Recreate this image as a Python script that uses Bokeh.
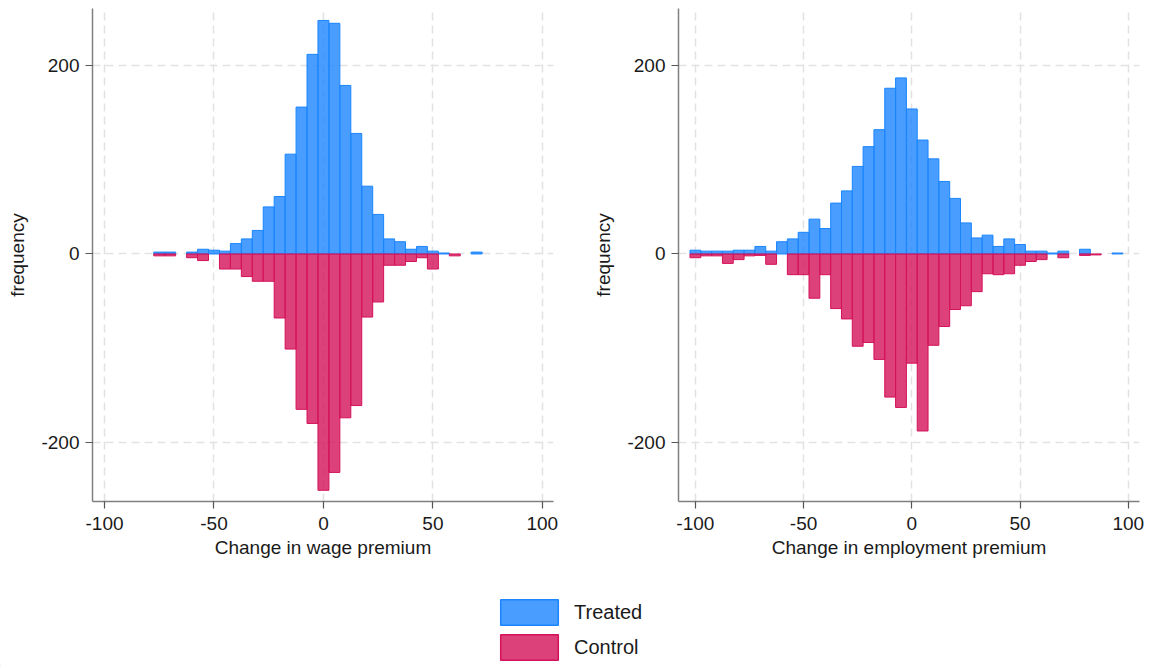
from bokeh.plotting import figure
from bokeh.layouts import column, row
from bokeh.models import Range1d, FixedTicker, Legend, LegendItem
from bokeh.embed import file_html
from bokeh.resources import INLINE

# ---------------- data ----------------
wage_bins = [-75, -70, -65, -60, -55, -50, -45, -40, -35, -30, -25, -20, -15, -10, -5,
             0, 5, 10, 15, 20, 25, 30, 35, 40, 45, 50, 55, 60, 65, 70]
wage_treated = [2, 2, 0, 2, 5, 4, 3, 11, 16, 25, 50, 61, 106, 156, 212,
                248, 245, 179, 128, 72, 42, 16, 13, 5, 8, 3, 1, 0, 0, 2]
wage_control = [2, 2, 0, 4, 7, 0, 16, 16, 24, 29, 29, 68, 101, 165, 180,
                251, 232, 174, 161, 67, 51, 12, 12, 8, 4, 16, 0, 2, 0, 0]

emp_bins = [-100, -95, -90, -85, -80, -75, -70, -65, -60, -55, -50, -45, -40, -35, -30,
            -25, -20, -15, -10, -5, 0, 5, 10, 15, 20, 25, 30, 35, 40, 45,
            50, 55, 60, 65, 70, 75, 80, 85, 90, 95]
emp_treated = [4, 3, 3, 3, 4, 4, 8, 3, 13, 16, 23, 37, 27, 54, 67,
               93, 114, 132, 176, 187, 154, 121, 101, 77, 59, 33, 17, 20, 8, 16,
               10, 3, 3, 1, 3, 0, 5, 0, 0, 1]
emp_control = [4, 2, 2, 10, 6, 2, 1.5, 11, 0, 22, 22, 47, 22, 58, 69,
               98, 94, 112, 152, 163, 116, 188, 97, 77, 59, 55, 40, 21, 22, 21,
               12, 8, 6, 0, 4, 0, 1.5, 1, 0, 0]

x_ticks = [-100, -50, 0, 50, 100]
y_ticks = [-200, 0, 200]
series_names = ["Treated", "Control"]
x_titles = ["Change in wage premium", "Change in employment premium"]
y_title = "frequency"

BLUE = "#1a85ff"
RED = "#d41159"
FONT = "Liberation Sans"
FS = "19px"
BIN_W = 5


def panel(bins, treated, control, xlabel, xr, width, border_right):
    p = figure(width=width, height=580,
               x_range=Range1d(*xr), y_range=Range1d(-262.9, 260.7),
               output_backend="svg", toolbar_location=None,
               min_border_left=92, min_border_right=border_right,
               min_border_top=8, min_border_bottom=79)
    p.outline_line_color = None
    p.background_fill_color = "white"
    p.border_fill_color = "white"

    t_x = [b for b, v in zip(bins, treated) if v > 0]
    t_v = [v for v in treated if v > 0]
    c_x = [b for b, v in zip(bins, control) if v > 0]
    c_v = [-v for v in control if v > 0]

    p.vbar(x=t_x, top=t_v, bottom=0, width=BIN_W,
           fill_color=BLUE, fill_alpha=0.8, line_color=BLUE, line_width=1)
    p.vbar(x=c_x, top=0, bottom=c_v, width=BIN_W,
           fill_color=RED, fill_alpha=0.8, line_color=RED, line_width=1)

    p.xaxis.ticker = FixedTicker(ticks=x_ticks)
    p.yaxis.ticker = FixedTicker(ticks=y_ticks)
    p.xaxis.major_label_overrides = {t: str(t) for t in x_ticks}
    p.yaxis.major_label_overrides = {t: str(t) for t in y_ticks}
    for ax in (p.xaxis[0], p.yaxis[0]):
        ax.axis_line_color = "#808080"
        ax.axis_line_width = 1.5
        ax.major_tick_line_color = "#555555"
        ax.major_tick_line_width = 1.2
        ax.major_tick_out = 7
        ax.major_tick_in = 0
        ax.minor_tick_out = 0
        ax.minor_tick_in = 0
        ax.major_label_text_font = FONT
        ax.major_label_text_font_size = FS
        ax.major_label_text_color = "#1a1a1a"
        ax.axis_label_text_font = FONT
        ax.axis_label_text_font_size = FS
        ax.axis_label_text_font_style = "normal"
        ax.axis_label_text_color = "#1a1a1a"
    p.xaxis.major_label_standoff = 8
    p.yaxis.major_label_standoff = 6
    p.xaxis.axis_label = xlabel
    p.xaxis.axis_label_standoff = 4
    p.yaxis.axis_label = y_title
    p.yaxis.axis_label_standoff = 10
    p.yaxis.major_label_orientation = "horizontal"

    for g in (p.xgrid[0], p.ygrid[0]):
        g.grid_line_color = "#e2e2e2"
        g.grid_line_width = 1.5
        g.grid_line_dash = "8 5"
    return p


p1 = panel(wage_bins, wage_treated, wage_control, x_titles[0], (-105.5, 105.1), 586, 33)
p2 = panel(emp_bins, emp_treated, emp_control, x_titles[1], (-107.8, 105.2), 567, 14)

lg = figure(width=1153, height=86, output_backend="svg", toolbar_location=None,
            x_axis_type=None, y_axis_type=None, min_border=0,
            x_range=Range1d(0, 1), y_range=Range1d(0, 1))
lg.outline_line_color = None
lg.grid.visible = False
# legend keys: renderers whose only bar lies outside the visible range
r1 = lg.vbar(x=[-5], top=[-5], bottom=-6, width=1, fill_color=BLUE, fill_alpha=0.8,
             line_color=BLUE, line_width=1.5)
r2 = lg.vbar(x=[-5], top=[-5], bottom=-6, width=1, fill_color=RED, fill_alpha=0.8,
             line_color=RED, line_width=1.5)
legend = Legend(items=[LegendItem(label=series_names[0], renderers=[r1]),
                       LegendItem(label=series_names[1], renderers=[r2])],
                location=(493, 3), orientation="vertical",
                glyph_width=72, glyph_height=32, spacing=3,
                padding=0, margin=0, label_standoff=9,
                label_text_font=FONT, label_text_font_size="20px",
                label_text_color="#1a1a1a",
                border_line_alpha=0, background_fill_alpha=0)
lg.add_layout(legend)

layout = column(row(p1, p2), lg)
open("out.html", "w").write(file_html(layout, INLINE))
